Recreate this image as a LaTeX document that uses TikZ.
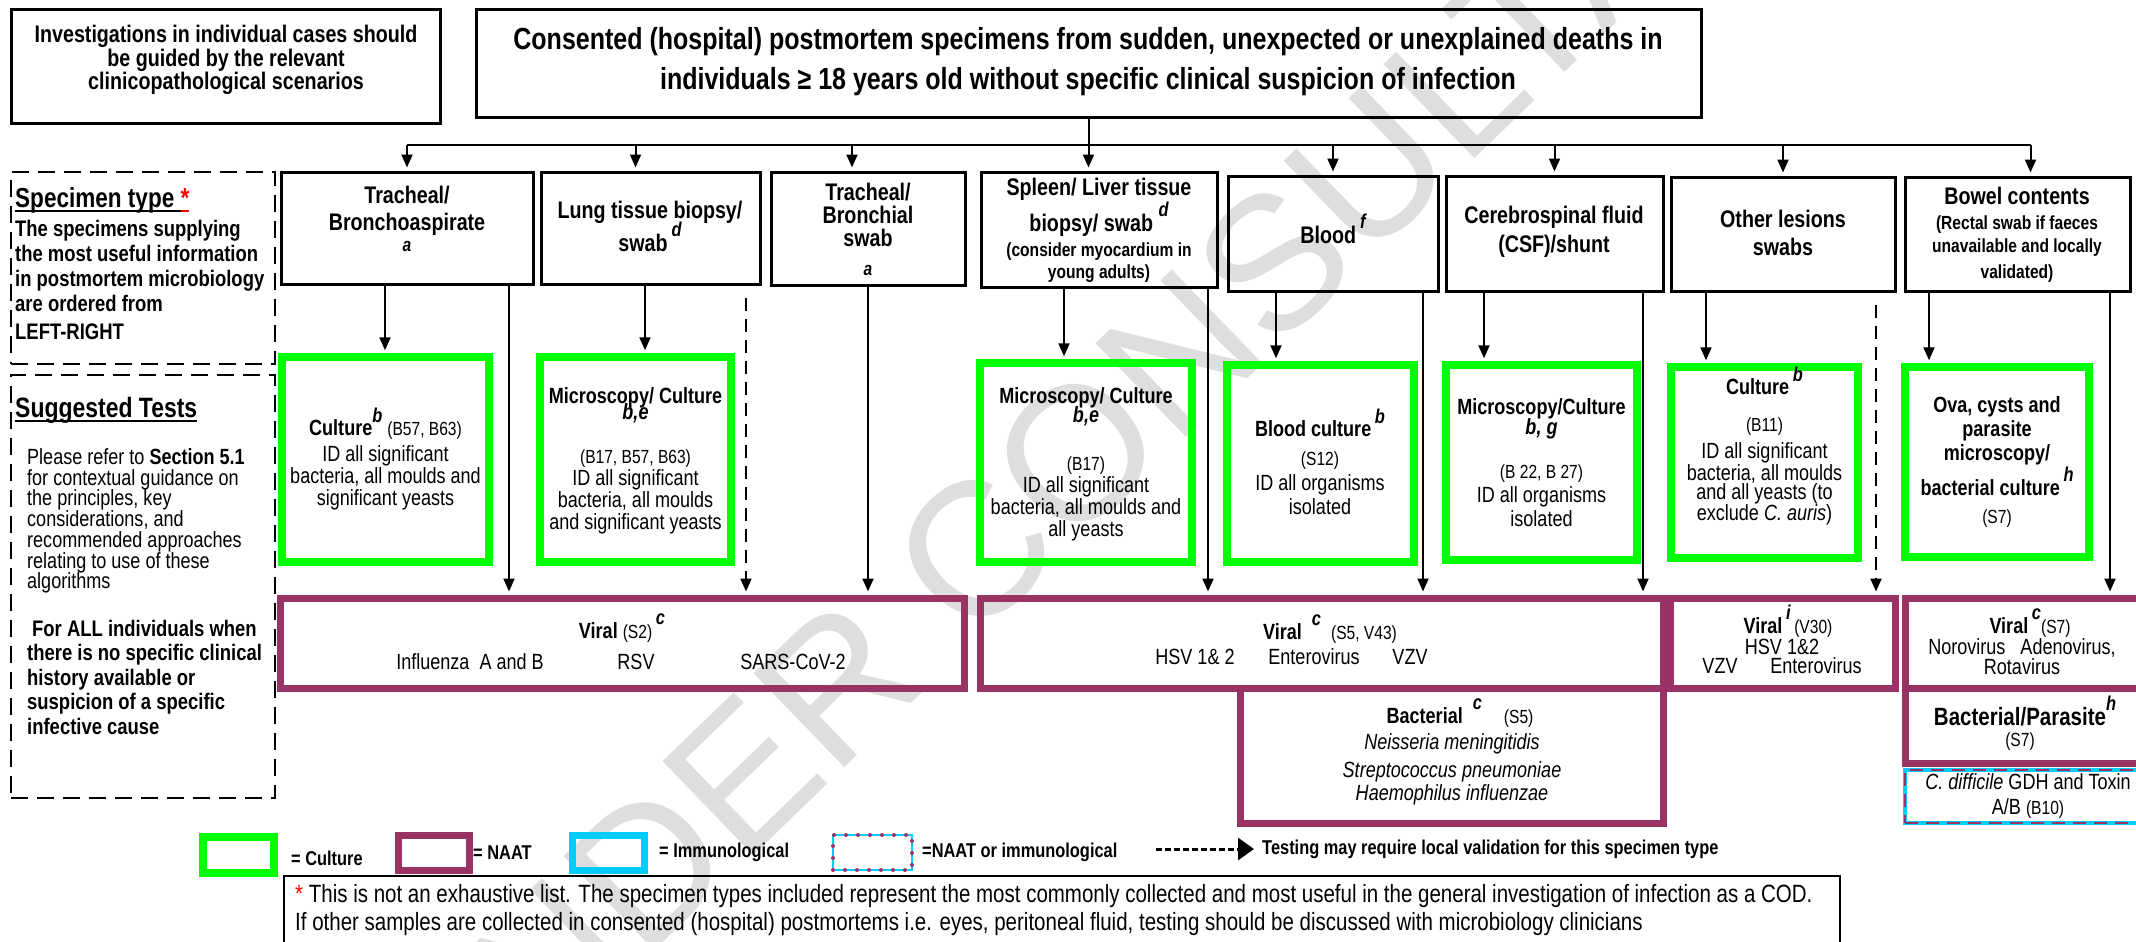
\documentclass[tikz,border=0pt]{standalone}
\usepackage{fontspec}
\IfFontExistsTF{Liberation Sans Narrow}
  {\setmainfont{Liberation Sans Narrow}}
  {\setmainfont{Liberation Sans}[FakeStretch=0.82]}
\newfontfamily\wmfont{Liberation Sans}
\usetikzlibrary{arrows.meta,fit}

\definecolor{cultgreen}{HTML}{00FF00}
\definecolor{naatpurple}{HTML}{993366}
\definecolor{immcyan}{HTML}{00CCFF}
\definecolor{wmgrey}{HTML}{DEDEDE}
\definecolor{starred}{HTML}{FF0000}

\newcommand\fs[2]{\fontsize{#1}{#2}\selectfont}
\newcommand\tagsup[1]{\smash{\raisebox{0.62em}{\fs{20}{20}\bfseries\itshape #1}}}
\newcommand\sm[1]{{\fs{19}{19}#1}}
\newcommand\heavyul[1]{\leavevmode\setbox0=\hbox{#1}\rlap{\rule[-5pt]{\wd0}{2.4pt}}\box0}

\tikzset{
  blackbox/.style={draw=black, line width=3pt, inner sep=0pt},
  cultbox/.style={draw=cultgreen, line width=7.5pt, inner sep=0pt},
  naatbox/.style={draw=naatpurple, line width=7pt, inner sep=0pt},
  sidebox/.style={draw=black, line width=2.5pt, dash pattern=on 17pt off 9pt, inner sep=0pt},
  arr/.style={line width=2pt, -{Triangle[length=13pt,width=11pt]}, shorten >=3pt},
  dasharr/.style={arr, dash pattern=on 13pt off 8pt},
  txt/.style={inner sep=0pt, align=center},
  spec/.style={txt, font=\fs{24}{27}\bfseries},
  test/.style={txt, font=\fs{22}{22}},
  plain/.style={txt, font=\fs{22}{20}},
  legtext/.style={inner sep=0pt, anchor=west, font=\fs{20}{20}\bfseries},
}

\begin{document}
\begin{tikzpicture}[x=1pt,y=-1pt]
\useasboundingbox (0,0) rectangle (2136,942);
\fill[white] (0,0) rectangle (2136,942);
\clip (0,0) rectangle (2136,942);

% watermark
\node[rotate=44, text=wmgrey, font=\wmfont\fs{190}{190}, inner sep=0pt] (wm) at (1183,350) {UNDER CONSULTATION};

% header
\node[blackbox, fit={(11,10) (440,123)}] (note) {};
\node[txt, font=\fs{24}{21}\bfseries] (notet) at (226,60) {Investigations in individual cases should\\be guided by the relevant\\clinicopathological scenarios};
\node[blackbox, fit={(476,10) (1701,117)}] (main) {};
\node[txt, font=\fs{30.5}{40}\bfseries] (maint) at (1088,62) {Consented (hospital) postmortem specimens from sudden, unexpected or unexplained deaths in\\individuals ≥ 18 years old without specific clinical suspicion of infection};

% left column
\node[sidebox, fit={(11,172) (275,364)}] (side1) {};
\node[inner sep=0pt, anchor=west, font=\fs{27.5}{28}\bfseries] (side1h) at (15,200) {\heavyul{Specimen type }\textcolor{starred}{\heavyul{*}}};
\node[inner sep=0pt, anchor=west, align=left, font=\fs{22.5}{25}\bfseries] (side1t) at (15,280) {The specimens supplying\\the most useful information\\in postmortem microbiology\\are ordered from\\[3pt]LEFT-RIGHT};
\node[sidebox, fit={(11,375) (275,798)}] (side2) {};
\node[inner sep=0pt, anchor=west, font=\fs{28}{28}\bfseries] (side2h) at (15,410) {\heavyul{Suggested Tests}};
\node[inner sep=0pt, anchor=west, align=left, font=\fs{22}{20.7}] (side2a) at (27,521) {Please refer to \textbf{Section 5.1}\\for contextual guidance on\\the principles, key\\considerations, and\\recommended approaches\\relating to use of these\\algorithms};
\node[inner sep=0pt, anchor=west, align=left, font=\fs{22.5}{24.5}\bfseries] (side2b) at (27,677) {\hspace{5pt}For ALL individuals when\\there is no specific clinical\\history available or\\suspicion of a specific\\infective cause};

% specimen types
\node[blackbox, fit={(281,172) (533,284)}] (s1) {};
\node[spec] (s1t) at (407,219) {Tracheal/\\Bronchoaspirate\\[-6pt]\sm{\itshape a}};
\node[blackbox, fit={(541,172) (760,284)}] (s2) {};
\node[spec, font=\fs{24}{33}\bfseries] (s2t) at (650,226) {Lung tissue biopsy/\\swab\,\tagsup{d}};
\node[blackbox, fit={(771,172) (965,285)}] (s3) {};
\node[spec, font=\fs{24}{23}\bfseries] (s3t) at (868,229) {Tracheal/\\Bronchial\\swab\\[6pt]\sm{\itshape a}};
\node[blackbox, fit={(981,172) (1217,287)}] (s4) {};
\node[spec, font=\fs{24}{24}\bfseries] (s4t) at (1099,230) {Spleen/ Liver tissue\\[12pt]biopsy/ swab \tagsup{d}\\[1pt]\sm{(consider myocardium in}\\[-2pt]\sm{young adults)}};
\node[blackbox, fit={(1228,176) (1438,291)}] (s5) {};
\node[spec] (s5t) at (1333,235) {Blood\,\tagsup{f}};
\node[blackbox, fit={(1446,176) (1663,291)}] (s6) {};
\node[spec, font=\fs{24}{29}\bfseries] (s6t) at (1554,232) {Cerebrospinal fluid\\(CSF)/shunt};
\node[blackbox, fit={(1671,177) (1895,291)}] (s7) {};
\node[spec, font=\fs{24}{28}\bfseries] (s7t) at (1783,233) {Other lesions\\swabs};
\node[blackbox, fit={(1905,177) (2130,291)}] (s8) {};
\node[spec, font=\fs{24}{25}\bfseries] (s8t) at (2017,235) {Bowel contents\\\sm{(Rectal swab if faeces}\\[-2pt]\sm{unavailable and locally}\\[1pt]\sm{validated)}};

% distribution bus
\coordinate (busL) at (407,145);
\coordinate (busR) at (2031,145);
\draw[line width=2pt] (busL) -- (busR);
\draw[arr] (main.south) -- (main.south |- s4.north);
\path (s1.north) coordinate (d1);
\path (s2.north) ++(-15,0) coordinate (d2);
\path (s3.north) ++(-16,0) coordinate (d3);
\path (s5.north) coordinate (d5);
\path (s6.north) coordinate (d6);
\path (s7.north) coordinate (d7);
\path (s8.north) ++(13,0) coordinate (d8);
\foreach \d in {d1,d2,d3,d5,d6,d7,d8} \draw[arr] (\d |- busL) -- (\d);

% culture tests
\node[cultbox, fit={(282,357) (489,562)}] (g1) {};
\node[test] (g1t) at (385.5,465) {\textbf{Culture}\tagsup{b}\ \sm{(B57, B63)}\\[4pt]ID all significant\\bacteria, all moulds and\\significant yeasts};
\node[cultbox, fit={(540,357) (731,562)}] (g2) {};
\node[test] (g2t) at (635.5,461) {\textbf{Microscopy/ Culture}\\[-6pt]\textbf{\textit{b,e}}\\[22pt]\sm{(B17, B57, B63)}\\ID all significant\\bacteria, all moulds\\and significant yeasts};
\node[cultbox, fit={(980,363) (1192,562)}] (g4) {};
\node[test] (g4t) at (1086,464) {\textbf{Microscopy/ Culture}\\[-3pt]\textbf{\textit{b,e}}\\[26pt]\sm{(B17)}\\ID all significant\\bacteria, all moulds and\\all yeasts};
\node[cultbox, fit={(1227,365) (1414,562)}] (g5) {};
\node[test] (g5t) at (1320,468) {\textbf{Blood culture}\,\tagsup{b}\\[7pt]\sm{(S12)}\\[3pt]ID all organisms\\[2pt]isolated};
\node[cultbox, fit={(1446,365) (1637,560)}] (g6) {};
\node[test] (g6t) at (1541.5,463) {\textbf{Microscopy/Culture}\\[-2pt]\textbf{\textit{b, g}}\\[22pt]\sm{(B 22, B 27)}\\[2pt]ID all organisms\\[2pt]isolated};
\node[cultbox, fit={(1671,367) (1858,558)}] (g7) {};
\node[test, font=\fs{22}{19}] (g7t) at (1764.5,452) {\textbf{Culture}\,\tagsup{b}\\[18pt]\sm{(B11)}\\[6pt]ID all significant\\bacteria, all moulds\\and all yeasts (to\\exclude \textit{C. auris})};
\node[cultbox, fit={(1905,367) (2089,557)}] (g8) {};
\node[test, font=\fs{22}{24}\bfseries] (g8t) at (1997,462) {Ova, cysts and\\parasite\\microscopy/\\[11pt]bacterial culture\,\tagsup{h}\\[4pt]\mdseries\sm{(S7)}};

% specimen -> culture
\path (s1.south) ++(-22,0) coordinate (c1);
\path (s2.south) ++(-5.5,0) coordinate (c2);
\path (s4.south) ++(-35,0) coordinate (c4);
\path (s5.south) ++(-57,0) coordinate (c5);
\path (s6.south) ++(-70.5,0) coordinate (c6);
\path (s7.south) ++(-77,0) coordinate (c7);
\path (s8.south) ++(-88.5,0) coordinate (c8);
\draw[arr] (c1) -- (c1 |- g1.north);
\draw[arr] (c2) -- (c2 |- g2.north);
\draw[arr] (c4) -- (c4 |- g4.north);
\draw[arr] (c5) -- (c5 |- g5.north);
\draw[arr] (c6) -- (c6 |- g6.north);
\draw[arr] (c7) -- (c7 |- g7.north);
\draw[arr] (c8) -- (c8 |- g8.north);

% NAAT tests
\node[naatbox, fit={(280,598) (964,688)}] (n1) {};
\node[txt, font=\fs{22}{22}\bfseries] (n1h) at (622,632) {Viral \sm{\mdseries(S2)}\,\tagsup{c}};
\node[plain] (n1a) at (470,662) {Influenza\ \ A and B};
\node[plain] (n1b) at (636,662) {RSV};
\node[plain] (n1c) at (793,662) {SARS-CoV-2};

\node[naatbox, fit={(980,598) (1663,688)}] (n2) {};
\node[txt, font=\fs{22}{22}\bfseries] (n2h) at (1330,633) {Viral\ \ \tagsup{c}\ \ \sm{\mdseries(S5, V43)}};
\node[plain] (n2a) at (1195,657) {HSV 1\& 2};
\node[plain] (n2b) at (1314,657) {Enterovirus};
\node[plain] (n2c) at (1410,657) {VZV};

\node[naatbox, fit={(1240,688) (1663,823)}] (nb) {};
\node[txt, font=\fs{22}{22}\bfseries] (nbh) at (1460,717) {Bacterial\ \ \tagsup{c}\quad\sm{\mdseries(S5)}};
\node[txt, font=\fs{22}{28}\itshape] (nbt) at (1452,769) {Neisseria meningitidis\\Streptococcus pneumoniae\\[-5pt]Haemophilus influenzae};

\node[naatbox, fit={(1670,598) (1895,688)}] (n3) {};
\node[plain] (n3h) at (1788,627) {\textbf{Viral}\,\tagsup{i}\,\sm{(V30)}};
\node[plain] (n3a) at (1782,647) {HSV 1\&2};
\node[plain] (n3b) at (1720,666) {VZV};
\node[plain] (n3c) at (1816,666) {Enterovirus};

\node[naatbox, fit={(1905,598) (2150,688)}] (n4) {};
\node[plain] (n4h) at (2030,627) {\textbf{Viral}\,\tagsup{c}\sm{(S7)}};
\node[plain] (n4t) at (2022,657) {Norovirus\ \ \ Adenovirus,\\Rotavirus};

\node[naatbox, fit={(1905,688) (2150,763)}] (n5) {};
\node[txt, font=\fs{25}{25}\bfseries] (n5h) at (2025,717) {Bacterial/Parasite\tagsup{h}};
\node[txt, font=\fs{19}{19}] (n5t) at (2020,742) {(S7)};

\node[draw=immcyan, line width=4pt, inner sep=0pt, fit={(1905,770) (2150,823)},
      postaction={draw=naatpurple, line width=2.5pt, dash pattern=on 13pt off 8pt}] (cdiff) {};
\node[txt, font=\fs{22}{25}] (cdifft) at (2028,796) {\textit{C. difficile} GDH and Toxin\\A/B \sm{(B10)}};

% specimen -> NAAT
\path (s1.south) ++(102,0) coordinate (v1);
\path (s2.south) ++(95.5,12) coordinate (v2);
\path (s3.south) coordinate (v3);
\path (s4.south) ++(109,0) coordinate (v4);
\path (s5.south) ++(90,0) coordinate (v5);
\path (s6.south) ++(88.5,0) coordinate (v6);
\path (s7.south) ++(93,12) coordinate (v7);
\path (s8.south) ++(92.5,0) coordinate (v8);
\draw[arr] (v1) -- (v1 |- n1.north);
\draw[dasharr] (v2) -- (v2 |- n1.north);
\draw[arr] (v3) -- (v3 |- n1.north);
\draw[arr] (v4) -- (v4 |- n2.north);
\draw[arr] (v5) -- (v5 |- n2.north);
\draw[arr] (v6) -- (v6 |- n2.north);
\draw[dasharr] (v7) -- (v7 |- n3.north);
\draw[arr] (v8) -- (v8 |- n4.north);

% legend
\node[cultbox, fit={(203,837) (274,873)}] (lg1) {};
\node[legtext] (lg1t) at (291,858) {= Culture};
\node[naatbox, fit={(398,835) (469,870)}] (lg2) {};
\node[legtext] (lg2t) at (473,853) {= NAAT};
\node[draw=immcyan, line width=7pt, inner sep=0pt, fit={(572,835) (644,870)}] (lg3) {};
\node[legtext] (lg3t) at (659,852) {= Immunological};
\node[draw=immcyan, line width=2.5pt, inner sep=0pt, fit={(833,835) (912,870)},
      postaction={draw=naatpurple, line width=4pt, line cap=round, dash pattern=on 0pt off 12pt}] (lg4) {};
\node[legtext] (lg4t) at (922,852) {=NAAT or immunological};
\coordinate (lgA) at (1156,849);
\coordinate (lgB) at (1254,849);
\draw[line width=3pt, dash pattern=on 6pt off 3pt, -{Triangle[length=16pt,width=22pt]}] (lgA) -- (lgB);
\node[legtext] (lg5t) at (1262,849) {Testing may require local validation for this specimen type};

% footnote
\node[draw=black, line width=2.5pt, inner sep=0pt, fit={(284,876) (1840,960)}] (foot) {};
\node[inner sep=0pt, anchor=west, align=left, font=\fs{25}{28}] (foott) at (295,910) {\textcolor{starred}{*} This is not an exhaustive list. The specimen types included represent the most commonly collected and most useful in the general investigation of infection as a COD.\\If other samples are collected in consented (hospital) postmortems i.e. eyes, peritoneal fluid, testing should be discussed with microbiology clinicians};
\end{tikzpicture}
\end{document}
